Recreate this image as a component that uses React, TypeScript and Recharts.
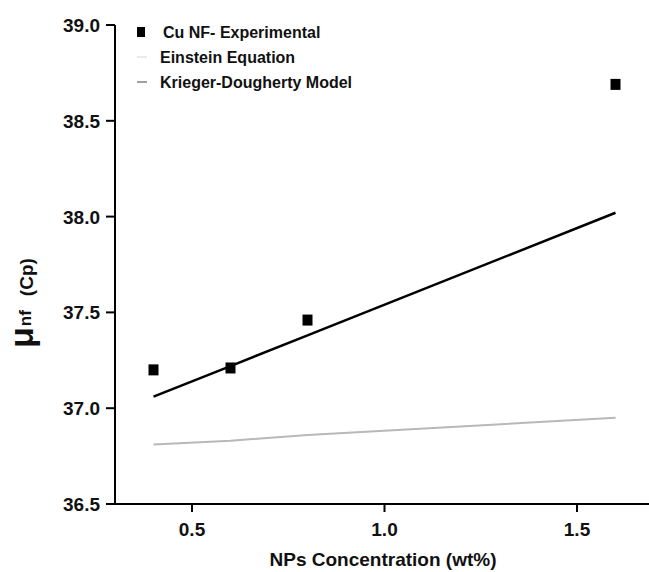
import React from 'react';
import { ComposedChart, Line, Scatter, XAxis, YAxis } from 'recharts';

const concentrations = [0.4, 0.6, 0.8, 1.6];
const experimental = [37.2, 37.21, 37.46, 38.69];
const einstein = [36.81, 36.83, 36.86, 36.95];
const kriegerDougherty = [37.06, 37.22, 37.38, 38.02];
const xTicks = [0.5, 1.0, 1.5];
const yTicks = [36.5, 37.0, 37.5, 38.0, 38.5, 39.0];
const seriesNames = ['Cu NF- Experimental', 'Einstein Equation', 'Krieger-Dougherty Model'];

const FONT = '"Liberation Sans", Arial, sans-serif';

const data = concentrations.map((x, i) => ({
  x,
  exp: experimental[i],
  ein: einstein[i],
  kd: kriegerDougherty[i],
}));

const YTick = (props: any) => {
  const { x, y, payload } = props;
  return (
    <text x={x} y={y} dy={7} textAnchor="end" fontFamily={FONT} fontWeight="bold" fontSize={19} fill="#111">
      {Number(payload.value).toFixed(1)}
    </text>
  );
};

const XTick = (props: any) => {
  const { x, y, payload } = props;
  return (
    <text x={x} y={y} dy={22} textAnchor="middle" fontFamily={FONT} fontWeight="bold" fontSize={19} fill="#111">
      {Number(payload.value).toFixed(1)}
    </text>
  );
};

const Square = (props: any) => {
  const { cx, cy } = props;
  if (cx == null || cy == null) return null;
  return <rect x={cx - 5} y={cy - 5.5} width={10} height={11} fill="#000" />;
};

const LegendBox = () => (
  <svg width={260} height={90} style={{ position: 'absolute', left: 130, top: 15, display: 'block' }}>
    {seriesNames.map((name, i) => {
      const cy = 17 + 25 * i;
      return (
        <g key={name}>
          {i === 0 ? (
            <rect x={7} y={cy - 5} width={8} height={10} fill="#000" />
          ) : (
            <line x1={7} x2={17} y1={cy} y2={cy} stroke={i === 1 ? '#d5d5d5' : '#444'} strokeWidth={1} />
          )}
          <text x={i === 0 ? 33 : 30} y={cy} dy={6} fontFamily={FONT} fontWeight="bold" fontSize={16} fill="#111">
            {name}
          </text>
        </g>
      );
    })}
  </svg>
);

const YLabel = () => (
  <text
    transform="translate(33,348) rotate(-90)"
    textAnchor="start"
    fontFamily={FONT}
    fontWeight="bold"
    fill="#111"
  >
    <tspan fontSize={34}>μ</tspan>
    <tspan fontSize={17} dx={1} dy={-2}>nf</tspan>
    <tspan fontSize={19} dx={14} dy={2}>(Cp)</tspan>
  </text>
);

const XLabel = () => (
  <text x={383} y={566} textAnchor="middle" fontFamily={FONT} fontWeight="bold" fontSize={19} fill="#111">
    NPs Concentration (wt%)
  </text>
);

export default function App() {
  return (
    <div style={{ position: 'absolute', left: 0, top: 0, width: 649, height: 572, background: '#fff' }}>
      <ComposedChart width={649} height={572} data={data} margin={{ top: 25, right: 0, bottom: 0, left: 0 }}>
        <XAxis
          dataKey="x"
          type="number"
          domain={[0.3, 1.687]}
          ticks={xTicks}
          tick={<XTick />}
          tickSize={8}
          tickMargin={2}
          height={68}
          axisLine={{ stroke: '#000', strokeWidth: 2 }}
          tickLine={{ stroke: '#000', strokeWidth: 2 }}
          allowDataOverflow
          label={<XLabel />}
        />
        <YAxis
          type="number"
          domain={[36.5, 39.0]}
          ticks={yTicks}
          tick={<YTick />}
          tickSize={9}
          tickMargin={6}
          width={115}
          axisLine={{ stroke: '#000', strokeWidth: 2 }}
          tickLine={{ stroke: '#000', strokeWidth: 2 }}
          allowDataOverflow
          label={<YLabel />}
        />
        <Line
          type="linear"
          dataKey="ein"
          name={seriesNames[1]}
          stroke="#b8b8b8"
          strokeWidth={2}
          dot={false}
          isAnimationActive={false}
        />
        <Line
          type="linear"
          dataKey="kd"
          name={seriesNames[2]}
          stroke="#000"
          strokeWidth={2.5}
          dot={false}
          isAnimationActive={false}
        />
        <Scatter dataKey="exp" name={seriesNames[0]} shape={<Square />} isAnimationActive={false} />
      </ComposedChart>
      <LegendBox />
    </div>
  );
}
